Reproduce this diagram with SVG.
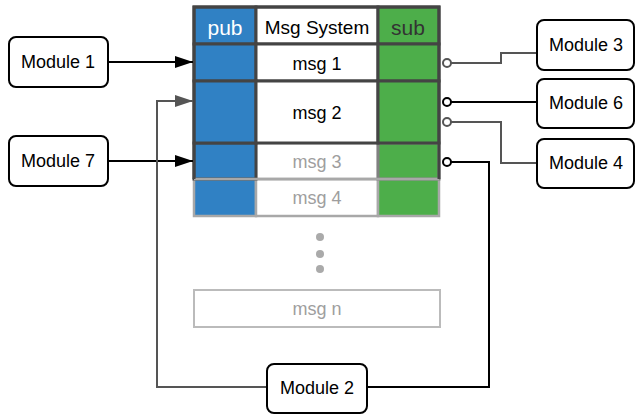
<svg xmlns="http://www.w3.org/2000/svg" width="635" height="414" viewBox="0 0 635 414">
  <style>
    text { font-family: "Liberation Sans", Arial, sans-serif; font-size: 18px; text-anchor: middle; dominant-baseline: central; }
    .hdr { font-size: 21px; }
    .mod rect { fill: #fff; stroke: #000; stroke-width: 2; }
    .pub { fill: #3081c4; }
    .sub { fill: #4dae4a; }
    .cell { fill: #fff; }
    .dark { stroke: #444; stroke-width: 3; }
    .mid { stroke: #808080; stroke-width: 3; }
    .light { stroke: #a8a8a8; stroke-width: 2.5; }
    .faint { fill: #9e9e9e; }
    .wire { fill: none; stroke-width: 2; }
    .blk { stroke: #000; }
    .gry { stroke: #555; }
    .port { fill: #fff; stroke-width: 2; }
  </style>
  <defs>
    <marker id="arrowBlack" viewBox="0 0 18 12" refX="18" refY="6" markerWidth="18" markerHeight="12" markerUnits="userSpaceOnUse" orient="auto">
      <path d="M0,0 L18,6 L0,12 Z" fill="#000"/>
    </marker>
    <marker id="arrowGray" viewBox="0 0 18 12" refX="18" refY="6" markerWidth="18" markerHeight="12" markerUnits="userSpaceOnUse" orient="auto">
      <path d="M0,0 L18,6 L0,12 Z" fill="#555"/>
    </marker>
  </defs>

  <!-- message table -->
  <g id="msg-table">
    <!-- msg 4 (inactive) -->
    <rect class="pub light" x="194" y="179" width="62" height="37"/>
    <rect class="cell light" x="256" y="179" width="122" height="37"/>
    <rect class="sub light" x="378" y="179" width="61" height="37"/>
    <text x="317" y="198" class="faint">msg 4</text>

    <!-- msg 3 (partly active) -->
    <rect class="cell light" x="256" y="143" width="122" height="36"/>
    <rect class="sub mid" x="378" y="143" width="61" height="36"/>
    <rect class="pub dark" x="194" y="143" width="62" height="36"/>
    <path d="M194,179 H439" stroke="#a8a8a8" stroke-width="2.5"/>
    <text x="317" y="162" class="faint">msg 3</text>

    <!-- header -->
    <rect class="pub dark" x="194" y="7" width="62" height="37"/>
    <rect class="cell dark" x="256" y="7" width="122" height="37"/>
    <rect class="sub dark" x="378" y="7" width="61" height="37"/>
    <text x="225" y="27" class="hdr" fill="#fff">pub</text>
    <text x="317" y="27" fill="#000" style="font-size:19px">Msg System</text>
    <text x="408" y="27" class="hdr" fill="#333">sub</text>

    <!-- msg 1 -->
    <rect class="pub dark" x="194" y="44" width="62" height="37"/>
    <rect class="cell dark" x="256" y="44" width="122" height="37"/>
    <rect class="sub dark" x="378" y="44" width="61" height="37"/>
    <text x="317" y="64" fill="#000">msg 1</text>

    <!-- msg 2 -->
    <rect class="pub dark" x="194" y="81" width="62" height="62"/>
    <rect class="cell dark" x="256" y="81" width="122" height="62"/>
    <rect class="sub dark" x="378" y="81" width="61" height="62"/>
    <text x="317" y="113" fill="#000">msg 2</text>

    <!-- outer frame sides -->
    <path d="M194,179 V7 H439 V179" fill="none" class="dark"/>

    <!-- ellipsis -->
    <circle cx="320" cy="237" r="4" fill="#aaa"/>
    <circle cx="320" cy="254" r="4" fill="#aaa"/>
    <circle cx="320" cy="269" r="4" fill="#aaa"/>

    <!-- msg n -->
    <rect x="194" y="290" width="246" height="37" fill="#fff" stroke="#bbb" stroke-width="2"/>
    <text x="317" y="309" class="faint">msg n</text>
  </g>

  <!-- connectors -->
  <g id="connectors">
    <path class="wire blk" d="M108,62 H193" marker-end="url(#arrowBlack)"/>
    <path class="wire blk" d="M108,161 H193" marker-end="url(#arrowBlack)"/>
    <path class="wire gry" d="M267,387 H157 V101 H193" marker-end="url(#arrowGray)"/>
    <path class="wire blk" d="M367,387 H489 V162 H451"/>
    <path class="wire gry" d="M537,53 H501 V63 H451"/>
    <path class="wire blk" d="M537,102 H451"/>
    <path class="wire gry" d="M537,163 H501 V122 H451"/>
    <circle class="port gry" cx="447" cy="63" r="4"/>
    <circle class="port blk" cx="447" cy="102" r="4"/>
    <circle class="port gry" cx="447" cy="122" r="4"/>
    <circle class="port blk" cx="447" cy="162" r="4"/>
  </g>

  <!-- modules -->
  <g id="module1" class="mod"><rect x="9" y="37" width="99" height="50" rx="7"/><text x="58" y="62">Module 1</text></g>
  <g id="module7" class="mod"><rect x="9" y="136" width="99" height="50" rx="7"/><text x="58" y="161">Module 7</text></g>
  <g id="module3" class="mod"><rect x="537" y="20" width="97" height="50" rx="7"/><text x="586" y="45">Module 3</text></g>
  <g id="module6" class="mod"><rect x="537" y="79" width="97" height="49" rx="7"/><text x="586" y="103">Module 6</text></g>
  <g id="module4" class="mod"><rect x="537" y="139" width="97" height="49" rx="7"/><text x="586" y="163">Module 4</text></g>
  <g id="module2" class="mod"><rect x="267" y="364" width="100" height="49" rx="7"/><text x="317" y="388">Module 2</text></g>
</svg>
